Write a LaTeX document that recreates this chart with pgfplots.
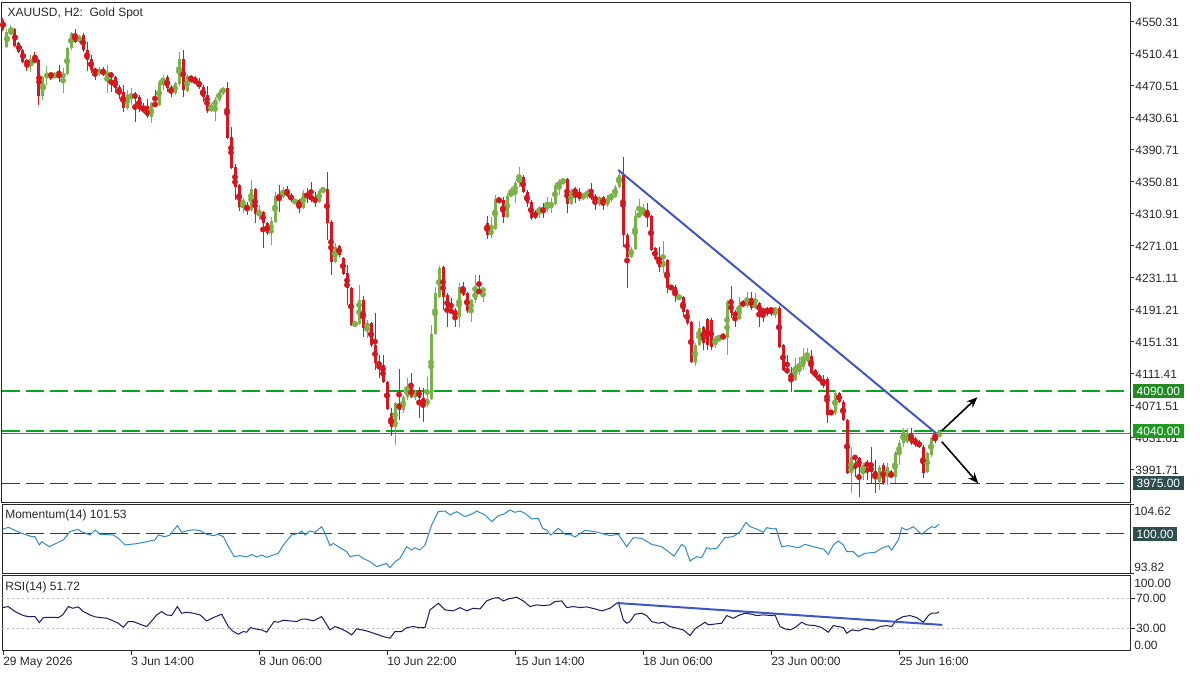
\documentclass[border=0pt]{standalone}
\usepackage{pgfplots}
\pgfplotsset{compat=1.18}
\usepackage{pgfplotstable}
\usepackage{fontspec}
\setmainfont{Liberation Sans}
\usetikzlibrary{arrows.meta}

\definecolor{cgreen}{RGB}{121,178,70}
\definecolor{cred}{RGB}{212,22,30}
\definecolor{momblue}{RGB}{46,139,199}
\definecolor{rsinavy}{RGB}{25,25,100}
\definecolor{trendblue}{RGB}{65,86,197}
\definecolor{lvgreen}{RGB}{10,165,30}
\definecolor{boxgreenA}{RGB}{34,139,34}
\definecolor{boxgreenB}{RGB}{30,155,30}
\definecolor{slate}{RGB}{47,79,79}
\definecolor{lvdark}{RGB}{50,62,62}
\definecolor{axcol}{RGB}{40,40,40}

\pgfplotstableread{
i o h l c
0 4552.8 4555.3 4539.1 4540.3
1 4519.2 4541.6 4517.9 4537.8
2 4535.4 4546.6 4534.1 4540.3
3 4541.6 4542.8 4519.2 4520.4
4 4524.1 4525.4 4511.7 4512.9
5 4515.4 4516.6 4499.2 4500.4
6 4502.9 4504.2 4489.2 4496.7
7 4497.9 4509.2 4488.0 4504.2
8 4505.4 4512.9 4499.2 4500.4
9 4502.9 4504.2 4446.8 4458.0
10 4458.0 4483.0 4453.1 4481.7
11 4480.5 4495.4 4471.7 4486.7
12 4486.7 4488.0 4478.0 4481.7
13 4481.7 4486.7 4480.5 4485.5
14 4485.5 4496.7 4475.5 4481.7
15 4481.7 4493.0 4461.8 4485.5
16 4485.5 4519.2 4484.2 4517.9
17 4517.9 4537.8 4515.4 4536.6
18 4535.4 4541.6 4524.1 4525.4
19 4525.4 4534.1 4524.1 4532.9
20 4534.1 4536.6 4512.9 4515.4
21 4515.4 4525.4 4489.2 4502.9
22 4504.2 4509.2 4486.7 4490.5
23 4491.7 4493.0 4478.0 4486.7
24 4488.0 4494.2 4483.0 4489.2
25 4491.7 4494.2 4483.0 4484.2
26 4484.2 4496.7 4461.8 4486.7
27 4486.7 4488.0 4463.0 4481.7
28 4481.7 4483.0 4461.8 4468.0
29 4469.3 4471.7 4454.3 4461.8
30 4463.0 4471.7 4438.1 4443.1
31 4443.1 4465.5 4440.6 4459.3
32 4456.8 4468.0 4446.8 4459.3
33 4460.5 4463.0 4425.6 4455.6
34 4456.8 4459.3 4438.1 4441.8
35 4443.1 4449.3 4436.9 4440.6
36 4441.8 4454.3 4430.6 4433.1
37 4431.9 4450.6 4424.4 4449.3
38 4449.3 4465.5 4444.3 4445.6
39 4446.8 4478.0 4445.6 4475.5
40 4474.2 4484.2 4465.5 4480.5
41 4481.7 4484.2 4463.0 4468.0
42 4469.3 4471.7 4456.8 4461.8
43 4461.8 4475.5 4459.3 4474.2
44 4473.0 4512.9 4470.5 4504.2
45 4504.2 4515.4 4456.8 4465.5
46 4464.3 4485.5 4463.0 4483.0
47 4483.0 4484.2 4474.2 4476.8
48 4479.2 4483.0 4473.0 4474.2
49 4475.5 4480.5 4466.8 4469.3
50 4469.3 4471.7 4450.6 4456.8
51 4459.3 4470.5 4436.9 4439.3
52 4439.3 4449.3 4438.1 4446.8
53 4444.3 4456.8 4426.9 4454.3
54 4453.1 4465.5 4450.6 4463.0
55 4461.8 4469.3 4459.3 4468.0
56 4468.0 4475.5 4404.4 4405.7
57 4406.9 4419.4 4367.0 4368.3
58 4369.5 4373.3 4328.4 4344.6
59 4347.1 4348.3 4314.7 4319.6
60 4320.9 4330.9 4312.2 4328.4
61 4322.1 4325.9 4309.7 4315.9
62 4315.9 4353.3 4313.4 4342.1
63 4342.1 4343.3 4299.7 4310.9
64 4309.7 4322.1 4303.4 4313.4
65 4313.4 4314.7 4268.5 4299.7
66 4299.7 4301.0 4284.7 4287.2
67 4287.2 4307.2 4272.3 4302.2
68 4300.9 4338.3 4299.7 4333.4
69 4333.4 4347.1 4313.4 4330.9
70 4332.1 4344.6 4330.9 4340.8
71 4340.8 4345.8 4332.1 4333.4
72 4334.6 4337.1 4325.9 4328.4
73 4324.6 4329.6 4323.4 4328.4
74 4328.4 4329.6 4312.2 4318.4
75 4318.4 4340.8 4317.1 4337.1
76 4337.1 4343.3 4324.6 4330.9
77 4332.1 4350.8 4325.9 4330.9
78 4332.1 4338.3 4319.6 4324.6
79 4325.9 4342.1 4324.6 4339.6
80 4338.3 4344.6 4337.1 4343.3
81 4342.1 4363.3 4278.5 4299.7
82 4300.9 4303.4 4234.8 4251.1
83 4251.1 4274.7 4249.8 4269.8
84 4271.0 4272.3 4257.3 4259.8
85 4256.1 4257.3 4234.8 4236.1
86 4237.3 4247.3 4197.5 4218.7
87 4218.7 4219.9 4171.3 4172.5
88 4172.5 4176.2 4171.3 4175.0
89 4173.7 4222.4 4172.5 4203.7
90 4203.7 4208.7 4157.6 4168.8
91 4168.8 4178.7 4156.3 4175.0
92 4175.0 4176.2 4145.1 4147.6
93 4147.6 4187.5 4116.4 4125.1
94 4125.1 4135.1 4106.4 4122.6
95 4122.6 4135.1 4100.2 4101.4
96 4101.4 4102.7 4066.5 4067.8
97 4062.8 4069.0 4034.1 4045.3
98 4045.3 4076.5 4022.9 4075.3
99 4075.3 4117.6 4054.1 4066.5
100 4066.5 4085.2 4062.8 4082.7
101 4082.7 4106.4 4079.0 4093.9
102 4093.9 4112.7 4081.5 4082.7
103 4082.7 4091.5 4079.0 4089.0
104 4091.5 4095.2 4056.6 4081.5
105 4081.5 4093.9 4051.6 4072.8
106 4072.8 4107.7 4070.3 4080.3
107 4080.3 4172.5 4079.0 4161.3
108 4161.3 4219.9 4160.0 4212.4
109 4207.4 4246.1 4206.2 4243.6
110 4244.8 4246.1 4191.2 4207.4
111 4209.9 4212.4 4170.0 4190.0
112 4191.2 4206.2 4187.5 4188.7
113 4191.2 4193.7 4170.0 4182.5
114 4182.5 4224.9 4170.0 4219.9
115 4219.9 4226.1 4208.7 4209.9
116 4212.4 4213.6 4187.5 4190.0
117 4190.0 4204.9 4176.2 4203.7
118 4203.7 4234.8 4199.9 4214.9
119 4214.9 4234.8 4212.4 4213.6
120 4213.6 4219.9 4201.2 4218.7
121 4299.7 4308.4 4279.7 4284.7
122 4284.7 4307.2 4281.0 4292.2
123 4292.2 4334.6 4291.0 4329.6
124 4329.6 4332.1 4324.6 4325.9
125 4328.4 4332.1 4299.7 4307.2
126 4307.2 4337.1 4305.9 4333.4
127 4333.4 4344.6 4332.1 4338.3
128 4337.1 4352.1 4324.6 4349.6
129 4349.6 4369.5 4344.6 4357.1
130 4357.1 4359.6 4337.1 4338.3
131 4338.3 4340.8 4319.6 4324.6
132 4325.9 4328.4 4303.4 4305.9
133 4313.4 4315.9 4304.7 4305.9
134 4310.9 4320.9 4305.9 4319.6
135 4319.6 4324.6 4305.9 4312.2
136 4317.1 4332.1 4313.4 4322.1
137 4320.9 4330.9 4312.2 4324.6
138 4323.4 4349.6 4322.1 4347.1
139 4347.1 4354.5 4334.6 4349.6
140 4349.6 4355.8 4347.1 4354.5
141 4354.5 4355.8 4312.2 4323.4
142 4323.4 4342.1 4322.1 4339.6
143 4342.1 4344.6 4324.6 4337.1
144 4338.3 4343.3 4327.1 4329.6
145 4329.6 4337.1 4328.4 4335.9
146 4334.6 4342.1 4329.6 4337.1
147 4337.1 4349.6 4328.4 4330.9
148 4333.4 4335.9 4315.9 4325.9
149 4325.9 4333.4 4320.9 4332.1
150 4332.1 4333.4 4315.9 4322.1
151 4322.1 4334.6 4319.6 4330.9
152 4330.9 4337.1 4325.9 4334.6
153 4332.1 4347.1 4330.9 4344.6
154 4344.6 4365.8 4343.3 4359.6
155 4359.6 4382.0 4269.8 4284.7
156 4284.7 4287.2 4218.7 4257.3
157 4257.3 4269.8 4256.1 4267.3
158 4267.3 4315.9 4266.0 4308.4
159 4307.2 4329.6 4305.9 4312.2
160 4309.7 4323.4 4308.4 4317.1
161 4315.9 4324.6 4294.7 4307.2
162 4308.4 4309.7 4264.8 4266.0
163 4268.5 4269.8 4253.6 4254.8
164 4257.3 4269.8 4238.6 4244.8
165 4244.8 4277.2 4237.3 4252.3
166 4253.6 4254.8 4212.4 4218.7
167 4219.9 4222.4 4216.2 4218.7
168 4219.9 4222.4 4201.2 4208.7
169 4204.9 4211.2 4203.7 4208.7
170 4207.4 4208.7 4182.5 4188.7
171 4191.2 4192.5 4172.5 4175.0
172 4176.2 4177.5 4125.1 4126.4
173 4125.1 4150.1 4121.4 4147.6
174 4147.6 4177.5 4146.3 4168.8
175 4170.0 4171.3 4141.3 4150.1
176 4180.0 4181.2 4141.3 4147.6
177 4178.7 4181.2 4141.3 4145.1
178 4147.6 4158.8 4143.8 4156.3
179 4155.0 4160.0 4151.3 4158.8
180 4160.0 4162.5 4153.8 4156.3
181 4156.3 4203.7 4135.1 4201.2
182 4201.2 4221.1 4181.2 4187.5
183 4188.7 4191.2 4170.0 4182.5
184 4180.0 4207.4 4178.7 4197.5
185 4199.9 4203.7 4194.9 4197.5
186 4196.2 4213.6 4193.7 4206.2
187 4206.2 4213.6 4191.2 4193.7
188 4195.0 4212.4 4192.5 4198.7
189 4199.9 4201.2 4170.0 4188.7
190 4191.2 4193.7 4176.2 4188.7
191 4192.5 4194.9 4183.7 4188.7
192 4193.7 4194.9 4183.7 4188.7
193 4188.7 4194.9 4181.2 4193.7
194 4193.7 4196.2 4144.0 4145.1
195 4147.6 4148.8 4115.1 4116.4
196 4118.9 4135.1 4111.4 4112.6
197 4112.6 4120.1 4089.0 4103.9
198 4103.9 4131.4 4102.7 4121.4
199 4113.9 4132.6 4110.1 4121.4
200 4120.1 4143.8 4116.4 4131.4
201 4128.9 4143.8 4126.4 4133.9
202 4133.9 4141.3 4111.4 4112.6
203 4116.4 4117.6 4106.4 4107.7
204 4110.1 4111.4 4101.4 4102.7
205 4103.9 4110.1 4094.0 4096.5
206 4105.2 4107.7 4050.3 4060.3
207 4064.0 4066.5 4060.3 4062.8
208 4062.8 4091.5 4060.3 4087.7
209 4087.7 4089.0 4075.3 4076.5
210 4076.5 4079.0 4052.8 4054.1
211 4054.1 4055.3 3986.7 3987.9
212 3987.9 4020.4 3963.0 4007.9
213 4007.9 4010.4 3982.9 4006.7
214 4006.7 4007.9 3958.0 3995.4
215 3987.9 4000.4 3979.2 3997.9
216 4001.7 4004.2 3979.2 3995.4
217 3996.7 4020.4 3975.5 3989.2
218 3990.4 4004.2 3963.0 3981.7
219 3976.7 3997.9 3966.8 3995.4
220 3997.9 4000.4 3972.9 3975.5
221 3982.9 4000.4 3972.9 3995.4
222 3987.9 3991.7 3981.7 3982.9
223 3982.9 4015.4 3975.5 4012.9
224 4010.4 4029.1 3997.9 4025.4
225 4025.4 4044.1 4020.4 4041.6
226 4026.6 4044.1 4025.4 4034.1
227 4036.6 4044.1 4022.9 4025.4
228 4030.4 4032.8 4020.4 4025.4
229 4026.6 4029.1 4019.1 4020.4
230 4020.4 4022.9 3981.7 3987.9
231 3989.2 4014.2 3987.9 4012.9
232 4010.4 4032.8 4007.9 4031.6
233 4035.4 4036.6 4025.4 4031.6
234 4032.8 4040.4 4032.8 4039.1
}\candles

\pgfplotsset{
  chartbase/.style={
    scale only axis, width=846.375pt, anchor=south west,
    xmin=-0.25, xmax=281.875,
    axis line style={line width=0.75pt, axcol},
    every tick/.style={line width=0.75pt, axcol},
    xtick=\empty, ytick pos=right, yticklabel pos=right,
    tick align=outside, major tick length=2.5pt,
    ticklabel style={font=\fontsize{9}{10}\selectfont, text=axcol},
    yticklabel style={anchor=west, inner sep=0pt, xshift=1pt},
    clip=false,
  },
  wick/.style={only marks, mark=none, forget plot,
    error bars/y dir=both, error bars/y explicit, error bars/error mark=none,
    error bars/error bar style={line width=0.75pt, solid}},
  body/.style={only marks, mark=none, forget plot,
    error bars/y dir=both, error bars/y explicit, error bars/error mark=none,
    error bars/error bar style={line width=2.25pt, solid}},
}
\tikzset{
  lbl/.style={anchor=west, inner sep=0pt, font=\fontsize{9}{10}\selectfont, text=axcol},
  pbox/.style={anchor=west, text=white, inner xsep=2.6pt, inner ysep=0pt,
    minimum height=10.5pt, font=\fontsize{9}{10}\selectfont},
}

\begin{document}
\begin{tikzpicture}
\path[use as bounding box] (0,0) rectangle (900pt,-506.25pt);

% ---------------- main price panel
\begin{axis}[chartbase,
  at={(1.5pt,-376.5pt)}, height=374.25pt,
  ymin=3951.8, ymax=4574.0,
  ytick={3991.71,4031.61,4071.51,4111.41,4151.31,4191.21,4231.11,4271.01,4310.91,4350.81,4390.71,4430.61,4470.51,4510.41,4550.31},
  yticklabels={3991.71,4031.61,4071.51,4111.41,4151.31,4191.21,4231.11,4271.01,4310.91,4350.81,4390.71,4430.61,4470.51,4510.41,4550.31},
]
% level lines
\draw[draw=lvgreen, line width=1.2pt, dash pattern=on 13.5pt off 4.5pt] (axis cs:-0.25,4090) -- (axis cs:281.875,4090);
\draw[draw=lvgreen, line width=1.2pt, dash pattern=on 13.5pt off 4.5pt] (axis cs:-0.25,4040.2) -- (axis cs:281.875,4040.2);
\draw[draw=lvgreen, line width=1.2pt] (axis cs:-0.25,4037.0) -- (axis cs:281.875,4037.0);
\draw[draw=lvdark, line width=0.8pt, dash pattern=on 13.5pt off 4.5pt] (axis cs:-0.25,3975) -- (axis cs:281.875,3975);
% wicks
\addplot[color=cgreen, wick, restrict expr to domain={\thisrow{c}-\thisrow{o}}{0:100000}]
  table[x=i, y expr={(\thisrow{h}+\thisrow{l})/2}, y error expr={(\thisrow{h}-\thisrow{l})/2}] {\candles};
\addplot[color=cred, wick, restrict expr to domain={\thisrow{c}-\thisrow{o}}{-100000:-0.001}]
  table[x=i, y expr={(\thisrow{h}+\thisrow{l})/2}, y error expr={(\thisrow{h}-\thisrow{l})/2}] {\candles};
% bodies
\addplot[color=cgreen, body, restrict expr to domain={\thisrow{c}-\thisrow{o}}{0:100000}]
  table[x=i, y expr={(\thisrow{o}+\thisrow{c})/2}, y error expr={max(abs(\thisrow{c}-\thisrow{o})/2,0.45)}] {\candles};
\addplot[color=cred, body, restrict expr to domain={\thisrow{c}-\thisrow{o}}{-100000:-0.001}]
  table[x=i, y expr={(\thisrow{o}+\thisrow{c})/2}, y error expr={max(abs(\thisrow{c}-\thisrow{o})/2,0.45)}] {\candles};
% trend line and arrows
\addplot[color=trendblue, line width=1.5pt, forget plot] coordinates {(153.8,4365.8) (233.8,4035.4)};
\addplot[color=black, line width=1.2pt, -{Stealth[length=8pt,width=6.5pt]}, forget plot] coordinates {(234.7,4040.7) (243.6,4082.4)};
\addplot[color=black, line width=1.2pt, -{Stealth[length=8pt,width=6.5pt]}, forget plot] coordinates {(234.7,4027.0) (243.8,3975.1)};
\end{axis}

% ---------------- momentum panel
\begin{axis}[chartbase,
  at={(1.5pt,-430.3pt)}, height=52.1pt,
  ymin=93.82, ymax=104.62,
  ytick={93.82,104.62}, yticklabels={,},
]
\draw[draw=lvdark, line width=0.75pt, dash pattern=on 13.5pt off 4.5pt] (axis cs:-0.25,100) -- (axis cs:281.875,100);
\addplot[color=momblue, line width=0.75pt] coordinates {
(-0.08,100.72) (1.33,101.04) (4.25,100.21) (7.17,99.58) (8.0,99.58) (9.08,98.29) (9.67,98.80) (11.58,98.03) (13.83,98.70) (15.08,99.07) (16.75,100.36) (18.67,100.72) (19.67,100.36) (21.75,99.84) (23.0,100.62) (24.25,99.95) (27.58,99.84) (28.83,99.32) (30.5,98.29) (31.75,98.39) (33.42,98.49) (35.92,98.80) (38.0,99.07) (38.83,99.84) (40.5,99.58) (41.75,99.84) (43.58,101.30) (44.67,100.26) (45.92,100.47) (47.58,100.67) (49.25,100.52) (50.92,99.95) (52.58,99.74) (53.83,99.95) (55.08,99.58) (56.33,98.03) (57.83,96.47) (59.25,96.63) (60.92,96.42) (62.17,96.83) (63.42,96.42) (64.67,96.73) (65.92,96.37) (67.58,96.73) (68.83,96.99) (70.08,98.29) (72.17,99.84) (73.83,100.10) (74.67,100.47) (75.5,99.84) (76.75,100.47) (78.0,100.26) (79.67,101.14) (80.5,100.10) (81.75,98.18) (82.58,98.55) (83.83,98.03) (85.92,97.25) (86.75,96.47) (88.83,96.73) (90.08,96.21) (91.75,95.69) (93.42,94.92) (94.67,95.18) (95.92,95.43) (96.75,94.76) (98.0,95.69) (99.25,96.21) (100.92,98.03) (102.17,97.51) (103.0,97.87) (104.25,97.51) (105.5,98.29) (107.17,101.40) (108.83,103.47) (110.5,103.58) (111.75,102.95) (113.42,103.47) (115.5,102.70) (117.58,103.21) (118.42,103.58) (120.5,102.95) (122.17,101.92) (123.83,102.85) (125.08,103.06) (126.75,103.73) (128.0,103.37) (129.25,103.58) (130.5,103.21) (132.17,102.33) (133.83,102.44) (134.92,100.88) (135.92,100.62) (136.92,99.84) (138.83,100.88) (140.5,99.95) (141.75,99.95) (143.0,99.53) (145.5,100.57) (148.0,100.36) (149.67,100.10) (151.75,99.74) (153.83,99.95) (155.92,98.03) (157.58,99.43) (159.67,99.32) (162.17,98.39) (164.67,98.03) (166.33,97.25) (167.75,96.56) (169.67,98.39) (170.5,98.03) (171.75,95.80) (173.42,96.47) (174.67,96.32) (175.92,97.87) (176.92,97.66) (178.42,97.77) (180.5,99.43) (182.58,99.58) (184.25,100.36) (185.75,101.81) (186.75,101.14) (188.42,100.78) (190.08,100.26) (190.92,100.98) (192.58,100.78) (193.25,100.88) (194.67,98.03) (196.33,98.18) (198.83,97.87) (200.5,98.39) (202.58,98.03) (205.08,97.66) (206.33,96.83) (207.58,98.29) (208.83,98.91) (210.08,98.29) (210.92,97.25) (212.58,97.25) (213.83,96.47) (215.5,96.99) (218.0,97.15) (219.67,97.77) (221.33,98.18) (222.17,97.51) (223.83,99.07) (224.67,100.98) (225.92,100.62) (227.58,101.14) (229.67,99.95) (230.92,100.62) (232.17,101.14) (233.0,100.98) (234.0,101.53)
};
\end{axis}

% ---------------- RSI panel
\begin{axis}[chartbase,
  at={(1.5pt,-488.0pt)}, height=56.2pt,
  ymin=0, ymax=100,
  ytick={30,70}, yticklabels={30.00,70.00},
  xtick={0,32,64,96,128,160,192,224},
  xticklabels={29 May 2026,3 Jun 14:00,8 Jun 06:00,10 Jun 22:00,15 Jun 14:00,18 Jun 06:00,23 Jun 00:00,25 Jun 16:00},
  xtick pos=bottom, major tick length=3pt,
  xticklabel style={anchor=north west, inner sep=0pt, yshift=-1.5pt},
]
\draw[draw=gray!55, line width=0.75pt, dash pattern=on 1.5pt off 2.25pt] (axis cs:-0.25,70) -- (axis cs:281.875,70);
\draw[draw=gray!55, line width=0.75pt, dash pattern=on 1.5pt off 2.25pt] (axis cs:-0.25,30) -- (axis cs:281.875,30);
\addplot[color=rsinavy, line width=0.75pt] coordinates {
(-0.08,57.52) (1.33,58.85) (3.0,52.18) (5.08,46.85) (6.33,45.51) (8.0,45.51) (9.08,37.51) (10.08,44.18) (11.75,44.63) (13.83,44.18) (14.92,47.74) (16.33,58.85) (17.42,56.63) (18.83,58.40) (20.08,52.18) (21.75,47.74) (23.0,45.07) (25.92,43.30) (27.17,40.63) (28.83,36.63) (30.08,31.30) (31.33,38.85) (32.58,38.85) (34.25,35.30) (35.92,32.18) (37.17,39.74) (38.42,47.74) (39.67,52.18) (40.92,47.74) (42.17,46.85) (43.58,58.85) (44.67,49.96) (45.92,51.29) (47.58,49.96) (49.25,47.74) (50.92,39.74) (52.58,44.18) (54.67,48.63) (56.33,32.18) (57.58,25.52) (58.83,21.96) (60.08,25.52) (60.92,24.63) (61.92,30.86) (63.0,29.08) (64.67,27.75) (65.92,24.63) (67.75,38.85) (68.83,37.96) (70.08,40.63) (71.75,39.74) (73.42,38.85) (74.67,41.96) (75.92,41.96) (77.58,39.74) (79.67,45.51) (81.75,27.75) (83.0,32.18) (84.25,29.96) (85.92,25.52) (87.17,21.08) (88.42,29.08) (89.67,27.75) (90.92,26.41) (93.42,21.96) (95.08,18.85) (96.75,16.63) (98.0,25.52) (99.67,25.52) (100.92,30.86) (102.58,32.18) (103.83,30.86) (105.5,30.86) (106.75,54.40) (108.83,63.30) (110.5,54.40) (112.58,53.08) (114.25,57.52) (115.92,53.08) (117.58,56.63) (119.25,55.74) (120.92,66.41) (122.58,69.96) (123.83,70.85) (125.08,66.41) (126.33,69.07) (128.42,71.30) (130.08,66.41) (131.75,58.85) (133.42,61.07) (135.08,60.19) (136.75,61.07) (138.0,65.52) (139.67,66.41) (140.92,57.52) (142.58,58.85) (144.25,57.52) (145.92,58.40) (148.0,55.74) (149.67,53.08) (151.75,56.63) (153.42,63.30) (153.83,64.63) (155.08,41.07) (155.92,36.63) (156.75,38.85) (158.0,48.63) (159.67,49.96) (160.92,46.85) (162.17,38.85) (163.83,36.63) (165.08,37.96) (166.75,32.18) (168.42,29.96) (170.08,27.75) (171.75,20.19) (173.0,29.08) (174.25,33.52) (175.5,37.96) (176.33,34.41) (177.58,35.30) (179.67,36.63) (180.92,46.85) (182.58,43.30) (183.83,46.85) (185.5,49.96) (187.17,48.63) (188.42,46.85) (190.08,47.74) (192.17,46.85) (193.0,47.74) (194.25,32.18) (195.5,29.08) (196.75,27.75) (198.0,30.86) (199.67,37.96) (200.92,34.41) (203.0,33.52) (204.67,30.86) (206.33,24.63) (207.58,33.52) (208.83,32.18) (210.08,30.86) (210.92,23.30) (212.17,27.75) (213.83,26.41) (215.5,29.96) (217.58,27.75) (219.25,32.18) (220.92,33.52) (222.17,32.18) (223.42,41.07) (225.08,45.51) (226.75,46.85) (228.42,44.18) (230.08,37.96) (231.33,46.85) (232.17,49.96) (233.42,49.96) (234.0,51.72)
};
\addplot[color=trendblue, line width=1.5pt, forget plot] coordinates {(153.5,63.6) (234.8,34.4)};
\end{axis}

% ---------------- texts and value boxes
\node[lbl, anchor=north west] at (5.5pt,-5.3pt) {XAUUSD, H2:\ \ Gold Spot};
\node[lbl, anchor=north west] at (3.75pt,-382.3pt) {Momentum(14) 101.53};
\node[lbl, anchor=north west] at (3.75pt,-436.5pt) {RSI(14) 51.72};

\node[lbl] at (850.5pt,-383.8pt) {104.62};
\node[lbl] at (850.5pt,-425.25pt) {93.82};
\node[lbl] at (850.5pt,-437.5pt) {100.00};
\node[lbl] at (850.5pt,-483.75pt) {0.00};

\node[pbox, fill=boxgreenA] at (849.75pt,-293.4pt) {4090.00};
\node[pbox, fill=boxgreenB] at (849.75pt,-323.45pt) {4040.00};
\node[pbox, fill=slate] at (849.75pt,-362.55pt) {3975.00};
\node[pbox, fill=slate] at (849.75pt,-400.5pt) {100.00};
\end{tikzpicture}
\end{document}
